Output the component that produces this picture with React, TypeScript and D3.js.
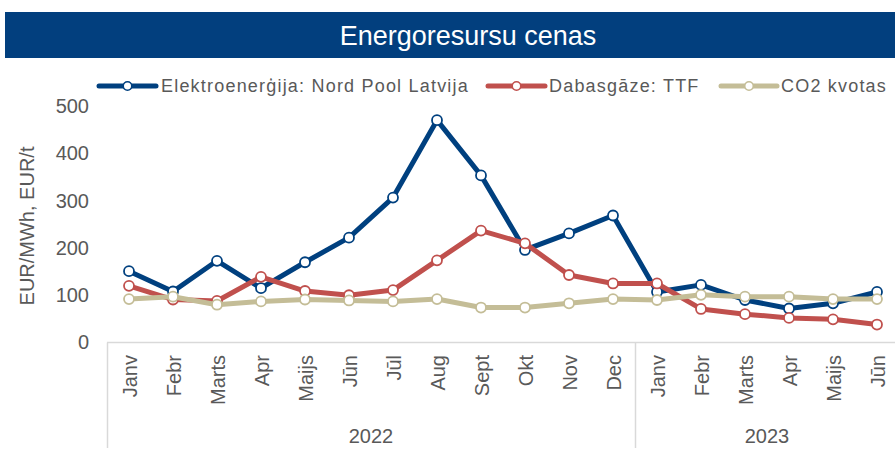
import React from "react";
import * as d3 from "d3";

const months = ["Janv","Febr","Marts","Apr","Maijs","Jūn","Jūl","Aug","Sept","Okt","Nov","Dec","Janv","Febr","Marts","Apr","Maijs","Jūn"];
const years = [{ label: "2022", count: 12 }, { label: "2023", count: 6 }];
const electricity = [150, 107, 172, 114, 169, 221, 306, 470, 353, 195, 230, 268, 106, 121, 89, 71, 82, 106];
const gas = [119, 90, 87, 138, 108, 99, 110, 173, 236, 209, 142, 124, 124, 70, 59, 51, 48, 37];
const co2 = [91, 96, 79, 86, 90, 88, 86, 91, 73, 73, 82, 91, 89, 100, 96, 96, 91, 91];
const yTicks = [0, 100, 200, 300, 400, 500];
const seriesNames = ["Elektroenerģija: Nord Pool Latvija", "Dabasgāze: TTF", "CO2 kvotas"];
const seriesColors = ["#00407f", "#c0504d", "#c4bd97"];
const title = "Energoresursu cenas";
const yTitle = "EUR/MWh, EUR/t";

const W = 895, H = 456;
const FONT = "'Liberation Sans', Arial, sans-serif";
const TXT = "#595959";

export default function App() {
  const x = d3.scaleBand<number>().domain(d3.range(months.length)).range([107, 107 + 44 * months.length]).padding(0);
  const y = d3.scaleLinear().domain([0, 500]).range([342, 106]);
  const cx = (i: number) => (x(i) as number) + x.bandwidth() / 2;
  const line = d3.line<number>().x((_, i) => cx(i)).y((v) => y(v));
  const allSeries = [electricity, gas, co2];

  const legendPos = [
    { l0: 99, l1: 156, tx: 161 },
    { l0: 488, l1: 545, tx: 549 },
    { l0: 721, l1: 777, tx: 781 },
  ];

  let acc = 0;
  const groups = years.map((g) => {
    const start = acc;
    acc += g.count;
    return { ...g, start, end: acc };
  });

  return (
    <svg width={W} height={H} style={{ position: "absolute", left: 0, top: 0, background: "#fff" }} fontFamily={FONT}>
      <rect x={5} y={12} width={W - 5} height={46} fill="#023f7e" />
      <text x={468} y={45} fill="#fff" fontSize={27} textAnchor="middle">{title}</text>

      {seriesNames.map((n, i) => (
        <g key={n}>
          <line x1={legendPos[i].l0} x2={legendPos[i].l1} y1={86} y2={86} stroke={seriesColors[i]} strokeWidth={5} strokeLinecap="round" />
          <circle cx={(legendPos[i].l0 + legendPos[i].l1) / 2} cy={86} r={4.3} fill="#fff" stroke={seriesColors[i]} strokeWidth={1.6} />
          <text x={legendPos[i].tx} y={92} fontSize={18} fill={TXT} letterSpacing={1.2}>{n}</text>
        </g>
      ))}

      {yTicks.map((t) => (
        <text key={t} x={89} y={y(t)} dy="0.36em" fontSize={20} fill={TXT} textAnchor="end">{t}</text>
      ))}
      <text transform={`translate(27,${(y(0) + y(500)) / 2 + 2}) rotate(-90)`} fontSize={20} fill={TXT} textAnchor="middle" dy="0.36em">{yTitle}</text>

      <line x1={107} x2={W} y1={342.5} y2={342.5} stroke="#d9d9d9" strokeWidth={1.5} />
      {groups.map((g) => (
        <line key={"s" + g.label} x1={(x(g.start) as number) + 0.5} x2={(x(g.start) as number) + 0.5} y1={342.5} y2={448} stroke="#d9d9d9" strokeWidth={1.5} />
      ))}
      {months.map((m, i) => (
        <text key={i} transform={`translate(${cx(i) + 1},355) rotate(-90)`} fontSize={20} fill={TXT} textAnchor="end" dy="0.36em">{m}</text>
      ))}
      {groups.map((g) => (
        <text key={g.label} x={((x(g.start) as number) + Math.min((x(g.start) as number) + 44 * g.count, 900)) / 2} y={443} fontSize={20} fill={TXT} textAnchor="middle">{g.label}</text>
      ))}

      {allSeries.map((s, si) => (
        <g key={si}>
          <path d={line(s) || ""} fill="none" stroke={seriesColors[si]} strokeWidth={5} strokeLinejoin="round" />
          {s.map((v, i) => (
            <circle key={i} cx={cx(i)} cy={y(v)} r={5} fill="#fff" stroke={seriesColors[si]} strokeWidth={1.8} />
          ))}
        </g>
      ))}
    </svg>
  );
}
